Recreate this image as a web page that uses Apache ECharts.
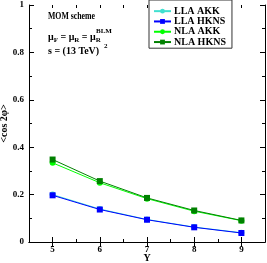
<!DOCTYPE html>
<html><head><meta charset="utf-8">
<script src="https://cdn.jsdelivr.net/npm/echarts@6/dist/echarts.min.js"></script>
<style>html,body{margin:0;padding:0;background:#fff}#c{width:267px;height:263px}</style>
</head><body><div id="c"></div>
<script>
const rapidity = [5, 6, 7, 8, 9];
const llaAKK  = [0.200, 0.139, 0.095, 0.063, 0.039];
const llaHKNS = [0.197, 0.137, 0.094, 0.062, 0.038];
const nlaAKK  = [0.334, 0.250, 0.183, 0.130, 0.090];
const nlaHKNS = [0.348, 0.257, 0.186, 0.133, 0.091];
const seriesNames = ['LLA AKK', 'LLA HKNS', 'NLA AKK', 'NLA HKNS'];
const xTickLabels = ['5', '6', '7', '8', '9'];
const yTickLabels = ['0', '0.2', '0.4', '0.6', '0.8', '1'];

const F = 'Liberation Serif';
const chart = echarts.init(document.getElementById('c'));
const pairs = a => rapidity.map((x, i) => [x, a[i]]);
const mk = (name, data, color, symbol, size, z) => ({
  name, type: 'line', data: pairs(data), symbol, symbolSize: size,
  xAxisIndex: 0, yAxisIndex: 0,
  lineStyle: {color, width: 1}, itemStyle: {color}, z, animation: false
});
const line = {show: true, lineStyle: {color: '#000', width: 1}};
const xMajor = (pos, labels) => ({
  type: 'value', min: 4.5, max: 9.5, interval: 0.5, position: pos,
  axisLine: line, splitLine: {show: false},
  axisTick: {show: true, inside: true, length: 5, customValues: rapidity, lineStyle: {color: '#000'}},
  axisLabel: labels ? {show: true, customValues: rapidity, fontFamily: F, fontWeight: 'bold', fontSize: 9,
    color: '#000', margin: 3, formatter: v => xTickLabels[rapidity.indexOf(v)] || ''} : {show: false}
});
const xMinor = pos => ({
  type: 'value', min: 4.5, max: 9.5, interval: 0.5, position: pos,
  axisLine: {show: false}, splitLine: {show: false}, axisLabel: {show: false},
  axisTick: {show: true, inside: true, length: 3, lineStyle: {color: '#000'}}
});
const yAx = (pos, labels) => ({
  type: 'value', min: 0, max: 1, interval: 0.2, position: pos,
  axisLine: line, splitLine: {show: false},
  axisTick: {show: true, inside: true, length: 5, lineStyle: {color: '#000'}},
  minorTick: {show: true, splitNumber: 2, length: 3, lineStyle: {color: '#000'}},
  axisLabel: labels ? {fontFamily: F, fontWeight: 'bold', fontSize: 9, color: '#000', margin: 5,
    formatter: v => yTickLabels[Math.round(v / 0.2)]} : {show: false}
});
const x0 = xMajor('bottom', true);
x0.name = 'Y'; x0.nameLocation = 'middle'; x0.nameGap = 11; x0.nameMoveOverlap = false;
x0.nameTextStyle = {fontFamily: F, fontWeight: 'bold', fontSize: 10, color: '#000'};
const y0 = yAx('left', true);
y0.name = '<cos 2φ>'; y0.nameLocation = 'middle'; y0.nameGap = 20; y0.nameRotate = 90; y0.nameMoveOverlap = false;
y0.nameTextStyle = {fontFamily: F, fontWeight: 'bold', fontSize: 10, color: '#000'};

chart.setOption({
  animation: false,
  grid: {left: 29, right: 2, top: 5, bottom: 21, containLabel: false, outerBoundsMode: 'none'},
  xAxis: [x0, xMajor('top', false), xMinor('bottom'), xMinor('top')],
  yAxis: [y0, yAx('right', false)],
  legend: {
    data: seriesNames, orient: 'vertical', left: 149, top: 0,
    itemWidth: 17, itemHeight: 6, itemGap: 0, padding: [6, 6, 1, 4],
    borderColor: '#333', borderWidth: 1, backgroundColor: '#fff',
    textStyle: {fontFamily: F, fontWeight: 'bold', fontSize: 10, lineHeight: 10.3, color: '#000', padding: [0,0,0,-2]}
  },
  graphic: [
    {type: 'text', x: 48, y: 16, scaleX: 0.78, style: {text: 'MOM scheme', font: 'bold 10px "Liberation Serif"', fill: '#000', verticalAlign: 'middle'}},
    {type: 'text', x: 48, y: 37, style: {
      text: '{m|μ}{s|F}{m| = μ}{s|R}{m| = μ}{s|R}', verticalAlign: 'middle',
      rich: {
        m: {fontFamily: F, fontWeight: 'bold', fontSize: 10, fill: '#000', verticalAlign: 'middle', lineHeight: 14},
        s: {fontFamily: F, fontWeight: 'bold', fontSize: 7, fill: '#000', verticalAlign: 'bottom', lineHeight: 14}
      }}},
    {type: 'text', x: 96, y: 31, style: {text: 'BLM', font: 'bold 7px "Liberation Serif"', fill: '#000', verticalAlign: 'middle'}},
    {type: 'text', x: 48, y: 51, style: {text: 's = (13 TeV)', font: 'bold 10px "Liberation Serif"', fill: '#000', verticalAlign: 'middle'}},
    {type: 'text', x: 104, y: 46, style: {text: '2', font: 'bold 7px "Liberation Serif"', fill: '#000', verticalAlign: 'middle'}}
  ],
  series: [
    mk(seriesNames[0], llaAKK, '#40E0D0', 'circle', 6, 2),
    mk(seriesNames[1], llaHKNS, '#0000FF', 'rect', 6, 3),
    mk(seriesNames[2], nlaAKK, '#00FF00', 'circle', 6, 2),
    mk(seriesNames[3], nlaHKNS, '#008000', 'rect', 6, 3)
  ]
});
</script></body></html>
